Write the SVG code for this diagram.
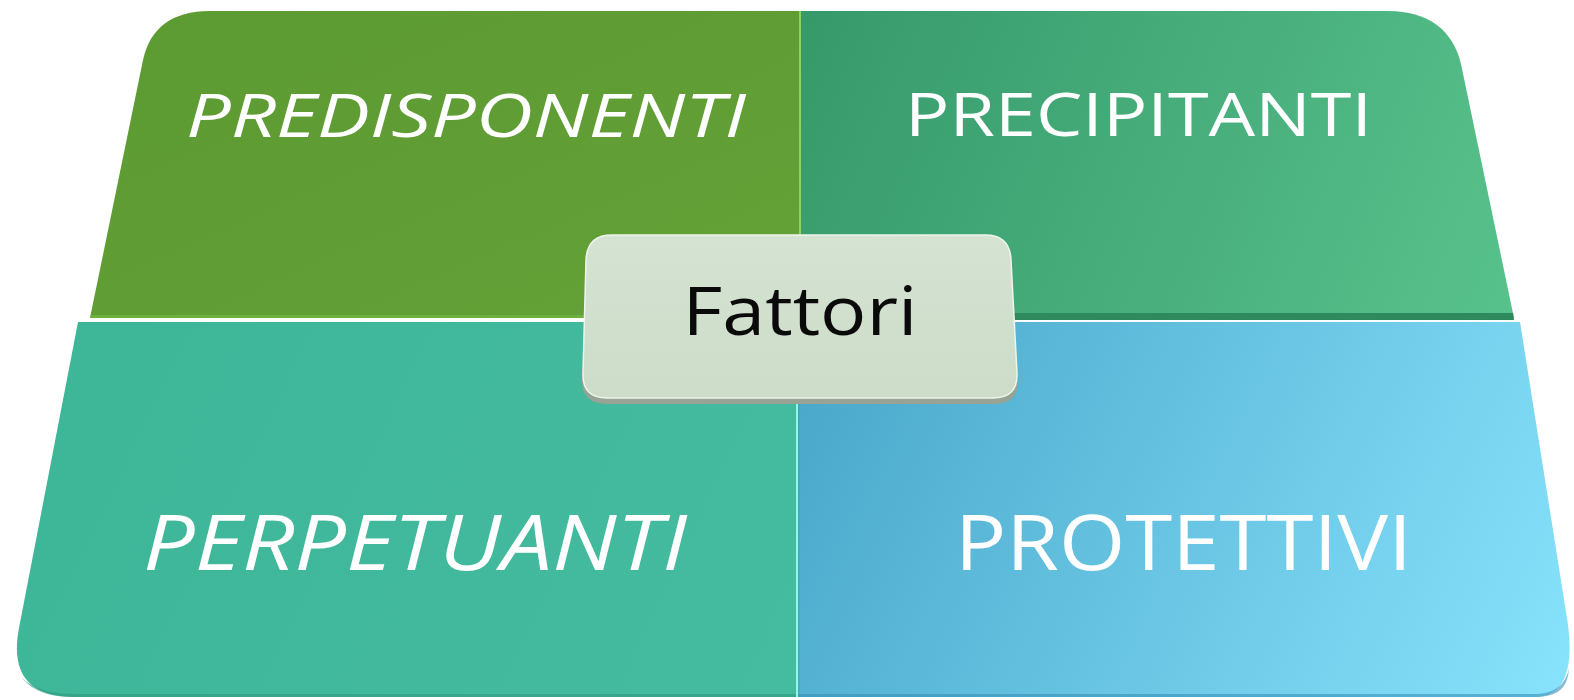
<svg xmlns="http://www.w3.org/2000/svg" width="1574" height="700" viewBox="0 0 1574 700">
<defs>
<linearGradient id="gTL" x1="0" y1="0" x2="1" y2="1"><stop offset="0" stop-color="#5c9a32"/><stop offset="1" stop-color="#64a238"/></linearGradient>
<linearGradient id="gTR" gradientUnits="userSpaceOnUse" x1="800" y1="11" x2="1516" y2="318"><stop offset="0" stop-color="#36996a"/><stop offset="1" stop-color="#58c28c"/></linearGradient>
<linearGradient id="gBL" gradientUnits="userSpaceOnUse" x1="15" y1="322" x2="797" y2="697"><stop offset="0" stop-color="#3db597"/><stop offset="1" stop-color="#45bca0"/></linearGradient>
<linearGradient id="gBR" gradientUnits="userSpaceOnUse" x1="800" y1="322" x2="1574" y2="697"><stop offset="0" stop-color="#48a6c9"/><stop offset="1" stop-color="#88e3fc"/></linearGradient>
<linearGradient id="gBox" x1="0" y1="0" x2="0" y2="1"><stop offset="0" stop-color="#d5e3d2"/><stop offset="1" stop-color="#cddcc9"/></linearGradient>
<style>
.lbl{font-family:"Open Sans","Liberation Sans",sans-serif;fill:#ffffff;}
.it{font-style:italic;}
.ctr{font-family:"Open Sans","Liberation Sans",sans-serif;fill:#0a0a0a;}
</style>
</defs>
<rect width="1574" height="700" fill="#ffffff"/>
<g id="connectors">
</g>
<g id="predisponenti">
<path d="M 800,11 L 210,11 C 172,11 150,28 143,60 L 90,318 L 800,318 Z" fill="url(#gTL)"/>
<path d="M 91,315 L 800,315 L 800,318 L 90,318 Z" fill="#6cb03d"/>
<line x1="800" y1="11" x2="800" y2="318" stroke="#8fd35c" stroke-width="2"/>
<text class="lbl it" x="186" y="137" font-size="60" textLength="560" lengthAdjust="spacingAndGlyphs">PREDISPONENTI</text>
</g>
<g id="precipitanti">
<path d="M 801,11 L 1388,11 C 1428,11 1453,30 1461,64 L 1514,318 L 801,318 Z" fill="url(#gTR)"/>
<path d="M 801,313 L 1513,313 L 1514,320 L 801,320 Z" fill="#2e8a5c"/>
<text class="lbl" x="905" y="136" font-size="60" textLength="467" lengthAdjust="spacingAndGlyphs">PRECIPITANTI</text>
</g>
<g id="perpetuanti">
<path d="M 797,322 L 78,322 L 19,628 C 10,675 30,697 75,697 L 797,697 Z" fill="url(#gBL)"/>
<path d="M 22,678 C 34,692 50,697 75,697 L 797,697 L 797,694 L 75,694 C 52,694 36,690 22,678 Z" fill="#2f9a80" opacity="0.6"/>
<text class="lbl it" x="143" y="570" font-size="77" textLength="544" lengthAdjust="spacingAndGlyphs">PERPETUANTI</text>
</g>
<g id="protettivi">
<path d="M 797,322 L 1520,322 L 1566,612 C 1575,662 1568,697 1535,697 L 797,697 Z" fill="url(#gBR)"/>
<path d="M 797,694 L 1535,694 C 1555,694 1566,684 1569,668 C 1568,688 1558,697 1535,697 L 797,697 Z" fill="#3a8fb5" opacity="0.6"/>
<line x1="797" y1="330" x2="797" y2="697" stroke="#8ff8e6" stroke-width="2"/>
<line x1="799" y1="330" x2="799" y2="697" stroke="#3a9ab5" stroke-width="1" opacity="0.6"/>
<text class="lbl" x="955" y="570" font-size="77" textLength="457" lengthAdjust="spacingAndGlyphs">PROTETTIVI</text>
</g>
<g id="fattori">
<path d="M 612,241 L 985,241 Q 1010,241 1011,266 L 1018,379 Q 1019,404 994,404 L 607,404 Q 581,404 582,379 L 586,266 Q 587,241 612,241 Z" fill="#96a395"/>
<path d="M 612,235 L 985,235 Q 1010,235 1011,260 L 1017,373 Q 1018,398 993,398 L 607,398 Q 582,398 583,373 L 586,260 Q 587,235 612,235 Z" fill="url(#gBox)" stroke="#eef5ec" stroke-width="1.5"/>
<text class="ctr" x="800" y="335" font-size="67" text-anchor="middle" textLength="235" lengthAdjust="spacingAndGlyphs">Fattori</text>
</g>
</svg>
